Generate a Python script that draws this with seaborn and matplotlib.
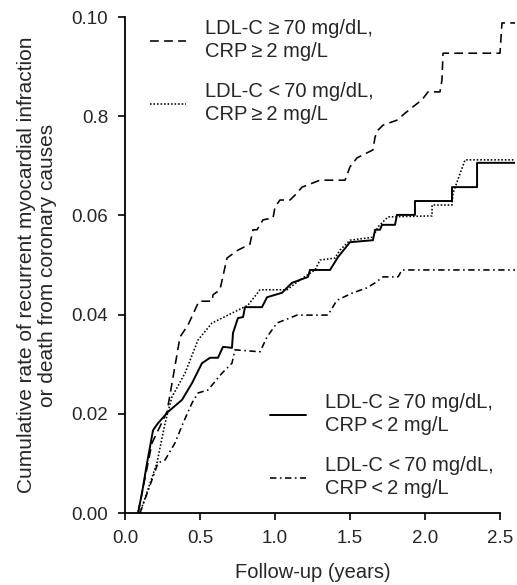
import numpy as np
import pandas as pd
import seaborn as sns
import matplotlib
matplotlib.use("Agg")
import matplotlib.pyplot as plt

# curves (years, cumulative rate)
hi_ldl_hi_crp_t = [0.087, 0.18, 0.28, 0.367, 0.42, 0.493, 0.58, 0.587, 0.633, 0.68, 0.753, 0.833, 0.853, 0.88, 0.92,
                   0.987, 1.0, 1.033, 1.10, 1.147, 1.18, 1.30, 1.467, 1.50, 1.547, 1.613, 1.653, 1.667, 1.687, 1.72,
                   1.813, 1.867, 1.92, 1.98, 2.02, 2.10, 2.113, 2.12, 2.50, 2.513, 2.613]
hi_ldl_hi_crp_y = [0, 0.0141, 0.0204, 0.0355, 0.0379, 0.0427, 0.0427, 0.0440, 0.0450, 0.0514, 0.0530, 0.0542, 0.0571,
                   0.0571, 0.0591, 0.0595, 0.0617, 0.0631, 0.0631, 0.0645, 0.0657, 0.0671, 0.0671, 0.0698, 0.0716,
                   0.0726, 0.0732, 0.0758, 0.0772, 0.0782, 0.0792, 0.0806, 0.0819, 0.0833, 0.0849, 0.0849, 0.0873,
                   0.0927, 0.0927, 0.0988, 0.0988]

lo_ldl_hi_crp_t = [0.10, 0.213, 0.267, 0.313, 0.40, 0.487, 0.58, 0.713, 0.82, 0.90, 1.08, 1.167, 1.267, 1.30, 1.40,
                   1.433, 1.50, 1.653, 1.687, 1.753, 2.047, 2.047, 2.18, 2.187, 2.267, 2.613]
lo_ldl_hi_crp_y = [0, 0.0101, 0.0181, 0.0234, 0.0282, 0.0349, 0.0383, 0.0403, 0.0419, 0.0450, 0.0450, 0.0470, 0.0490,
                   0.0510, 0.0514, 0.0530, 0.0550, 0.0556, 0.0577, 0.0597, 0.0599, 0.0621, 0.0621, 0.0645, 0.0712,
                   0.0712]

hi_ldl_lo_crp_t = [0.087, 0.113, 0.147, 0.187, 0.22, 0.287, 0.38, 0.447, 0.513, 0.567, 0.62, 0.653, 0.713, 0.72,
                   0.753, 0.787, 0.80, 0.913, 0.947, 1.047, 1.113, 1.22, 1.233, 1.367, 1.42, 1.50, 1.653, 1.667,
                   1.70, 1.713, 1.80, 1.813, 1.933, 1.933, 2.18, 2.18, 2.347, 2.347, 2.613]
hi_ldl_lo_crp_y = [0, 0.0040, 0.0101, 0.0167, 0.0181, 0.0204, 0.0228, 0.0262, 0.0302, 0.0313, 0.0313, 0.0335,
                   0.0333, 0.0363, 0.0393, 0.0395, 0.0415, 0.0415, 0.0435, 0.0444, 0.0464, 0.0476, 0.0490, 0.0490,
                   0.0516, 0.0546, 0.0550, 0.0571, 0.0571, 0.0581, 0.0581, 0.0601, 0.0601, 0.0629, 0.0629, 0.0657,
                   0.0657, 0.0706, 0.0706]

lo_ldl_lo_crp_t = [0.10, 0.18, 0.22, 0.267, 0.333, 0.387, 0.447, 0.487, 0.553, 0.647, 0.713, 0.733, 0.90, 0.947,
                   1.013, 1.147, 1.353, 1.413, 1.52, 1.613, 1.667, 1.72, 1.82, 1.847, 2.613]
lo_ldl_lo_crp_y = [0, 0.0067, 0.0101, 0.0107, 0.0141, 0.0181, 0.0222, 0.0242, 0.0248, 0.0282, 0.0302, 0.0329,
                   0.0325, 0.0355, 0.0383, 0.0399, 0.0399, 0.0429, 0.0444, 0.0454, 0.0464, 0.0476, 0.0476, 0.0490,
                   0.0490]

group_names = [
    "LDL-C \u2265\u200970 mg/dL,\nCRP\u2009\u2265\u20092 mg/L",
    "LDL-C <\u200970 mg/dL,\nCRP\u2009\u2265\u20092 mg/L",
    "LDL-C \u2265\u200970 mg/dL,\nCRP\u2009<\u20092 mg/L",
    "LDL-C <\u200970 mg/dL,\nCRP\u2009<\u20092 mg/L",
]
x_ticks = [0.0, 0.5, 1.0, 1.5, 2.0, 2.5]
x_tick_labels = ["0.0", "0.5", "1.0", "1.5", "2.0", "2.5"]
y_ticks = [0.00, 0.02, 0.04, 0.06, 0.08, 0.10]
y_tick_labels = ["0.00", "0.02", "0.04", "0.06", "0.8", "0.10"]  # "0.8" as printed in the original

curves = [
    (hi_ldl_hi_crp_t, hi_ldl_hi_crp_y),
    (lo_ldl_hi_crp_t, lo_ldl_hi_crp_y),
    (hi_ldl_lo_crp_t, hi_ldl_lo_crp_y),
    (lo_ldl_lo_crp_t, lo_ldl_lo_crp_y),
]
df_list = []
for name, (t, y) in zip(group_names, curves):
    df_list.append(pd.DataFrame({"t": t, "rate": y, "group": name}))
df = pd.concat(df_list, ignore_index=True)

dash_map = {
    group_names[0]: (5.5, 3.3),
    group_names[1]: (1, 1.2),
    group_names[2]: "",
    group_names[3]: (4, 2.2, 1, 2.2),
}

sns.set_style("ticks")
plt.rcParams["font.family"] = ["Liberation Sans", "DejaVu Sans"]

fig = plt.figure(figsize=(5.17, 5.85), dpi=100)
ax = fig.add_axes([125 / 517, 72 / 585, 390 / 517, 496 / 585])

sns.lineplot(data=df, x="t", y="rate", style="group", style_order=group_names, dashes=dash_map,
             color="black", linewidth=1.15, estimator=None, sort=False, legend=False, ax=ax)

lines = ax.get_lines()
lines[2].set_linewidth(1.4)

ax.set_xlim(0, 2.6)
ax.set_ylim(0, 0.10)
ax.set_xticks(x_ticks)
ax.set_xticklabels(x_tick_labels)
ax.set_yticks(y_ticks)
ax.set_yticklabels(y_tick_labels)
ax.tick_params(axis="both", labelsize=13.5, length=5, width=1.2, pad=7, color="black")

sns.despine(ax=ax)
for side in ["left", "bottom"]:
    ax.spines[side].set_linewidth(1.3)
    ax.spines[side].set_color("black")
ax.spines["bottom"].set_bounds(0, 2.5)

ax.set_xlabel("Follow-up (years)", fontsize=14.5)
ax.xaxis.set_label_coords(1.25 / 2.6, -0.1)
ax.set_ylabel("Cumulative rate of recurrent myocardial infraction\nor death from coronary causes",
              fontsize=15, linespacing=1.1)
ax.yaxis.set_label_coords(-0.175, 0.5)

leg_kw = dict(frameon=False, fontsize=14.5, handlelength=1.8, handletextpad=0.95,
              borderpad=0, borderaxespad=0, labelspacing=1.05)
leg1 = ax.legend(handles=lines[:2], labels=group_names[:2], loc="upper left",
                 bbox_to_anchor=(0.064, 0.995), **leg_kw)
for txt in leg1.get_texts():
    txt.set_linespacing(1.25)
ax.add_artist(leg1)
leg2 = ax.legend(handles=lines[2:], labels=group_names[2:], loc="lower left",
                 bbox_to_anchor=(0.372, 0.03), **leg_kw)
for txt in leg2.get_texts():
    txt.set_linespacing(1.25)

fig.savefig("out.png", dpi=100)
